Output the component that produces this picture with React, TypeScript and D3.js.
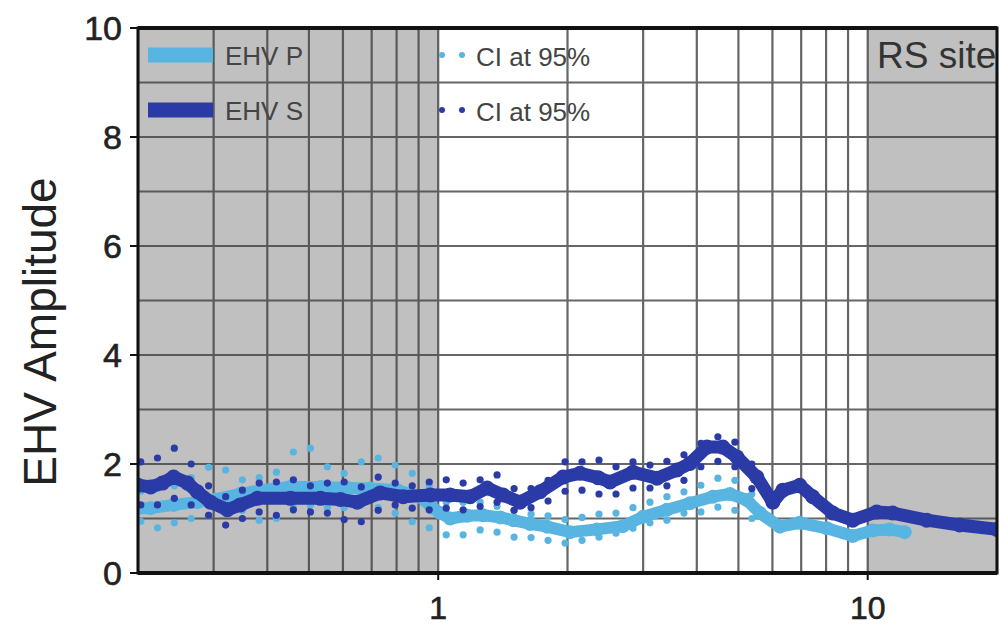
import React, { useEffect, useRef } from "react";
import * as d3 from "d3";

// EHV S (dark blue) mean curve
const sFreq = [0.2, 0.214, 0.228, 0.242, 0.261, 0.275, 0.295, 0.323, 0.346, 0.379, 0.453, 0.532, 0.592, 0.648, 0.733, 0.829, 0.958, 1.066, 1.187, 1.3, 1.416, 1.551, 1.727, 1.953, 2.139, 2.356, 2.512, 2.841, 3.231, 3.596, 3.855, 4.222, 4.6, 4.959, 5.519, 6.013, 6.344, 6.948, 7.449, 8.291, 9.228, 10.49, 11.43, 13.72, 16.37, 20];
const sAmp = [1.61, 1.58, 1.65, 1.76, 1.65, 1.49, 1.3, 1.16, 1.25, 1.37, 1.37, 1.37, 1.35, 1.3, 1.47, 1.4, 1.43, 1.43, 1.4, 1.56, 1.43, 1.3, 1.49, 1.76, 1.83, 1.75, 1.67, 1.85, 1.74, 1.89, 2.01, 2.31, 2.31, 2.13, 1.76, 1.3, 1.52, 1.61, 1.4, 1.1, 0.97, 1.12, 1.1, 0.97, 0.88, 0.8];

// EHV P (light blue) mean curve
const pFreq = [0.2, 0.214, 0.242, 0.275, 0.303, 0.346, 0.386, 0.453, 0.532, 0.614, 0.695, 0.803, 0.908, 0.968, 1.011, 1.066, 1.168, 1.272, 1.394, 1.494, 1.637, 1.792, 2.028, 2.343, 2.693, 2.997, 3.408, 3.855, 4.36, 4.776, 5.231, 5.609, 6.243, 6.948, 8.031, 9.228, 10.27, 11.25, 12.19];
const pAmp = [1.19, 1.19, 1.25, 1.3, 1.35, 1.45, 1.52, 1.58, 1.58, 1.56, 1.55, 1.52, 1.4, 1.2, 1.1, 1.0, 1.05, 1.06, 1.02, 0.97, 0.9, 0.85, 0.75, 0.8, 0.86, 1.03, 1.16, 1.28, 1.4, 1.45, 1.34, 1.1, 0.85, 0.92, 0.82, 0.68, 0.78, 0.8, 0.75];

// 95% confidence interval dots
const ciFreq = [0.203, 0.222, 0.243, 0.266, 0.292, 0.32, 0.35, 0.383, 0.42, 0.46, 0.504, 0.552, 0.604, 0.662, 0.725, 0.794, 0.87, 0.953, 1.044, 1.143, 1.252, 1.371, 1.502, 1.645, 1.802, 1.974, 2.162, 2.368, 2.594, 2.841, 3.112, 3.408, 3.734, 4.089, 4.479, 4.906, 5.373];
const sUpper = [2.04, 2.11, 2.29, 2.0, 1.6, 1.4, 1.52, 1.65, 1.67, 1.71, 1.6, 1.65, 1.67, 1.58, 1.76, 1.65, 1.6, 1.67, 1.71, 1.65, 1.71, 1.8, 1.55, 1.55, 1.7, 2.04, 2.04, 2.07, 1.95, 2.04, 1.98, 2.05, 2.17, 2.38, 2.5, 2.4, 2.0];
const sLower = [1.25, 1.25, 1.37, 1.25, 1.06, 0.88, 1.0, 1.12, 1.06, 1.16, 1.12, 1.1, 0.98, 0.94, 1.15, 1.25, 1.19, 1.16, 1.19, 1.16, 1.22, 1.3, 1.15, 1.2, 1.32, 1.5, 1.52, 1.45, 1.45, 1.56, 1.56, 1.6, 1.7, 1.95, 2.05, 1.95, 1.55];
const pUpper = [1.5, 1.55, 1.6, 1.75, 1.94, 1.89, 1.71, 1.75, 1.85, 2.22, 2.29, 1.95, 1.83, 2.04, 2.11, 1.98, 1.83, 1.6, 1.3, 1.3, 1.3, 1.22, 1.15, 1.08, 1.05, 0.98, 1.02, 1.08, 1.1, 1.2, 1.3, 1.4, 1.49, 1.61, 1.74, 1.7, 1.45];
const pLower = [0.95, 0.83, 0.92, 1.0, 1.06, 1.1, 1.15, 0.97, 1.0, 1.2, 1.25, 1.2, 1.2, 1.25, 1.2, 1.1, 0.94, 0.83, 0.7, 0.7, 0.79, 0.75, 0.66, 0.65, 0.6, 0.55, 0.6, 0.66, 0.73, 0.82, 0.92, 0.97, 1.1, 1.12, 1.21, 1.15, 1.0];

const yTicks = [0, 2, 4, 6, 8, 10];
const xTickLabels = [1, 10];
const shadedBands = [[0.2, 1], [10, 20]];

const LIGHT = "#58b4e1";
const DARK = "#2a3aa6";
const FONT = "'Liberation Sans', Arial, sans-serif";

const EhvChart = ({ width = 1000, height = 625 }) => {
  const ref = useRef<SVGSVGElement>(null);

  useEffect(() => {
    const left = 138, right = 997, top = 28, bottom = 573;
    const svg = d3.select(ref.current);
    svg.selectAll("*").remove();

    const x = d3.scaleLog().domain([0.2, 20]).range([left, right]);
    const y = d3.scaleLinear().domain([0, 10]).range([bottom, top]);

    svg.append("defs").append("clipPath").attr("id", "plot-clip")
      .append("rect").attr("x", left).attr("y", top)
      .attr("width", right - left).attr("height", bottom - top);

    // background + shaded bands
    svg.append("rect").attr("x", left).attr("y", top)
      .attr("width", right - left).attr("height", bottom - top).attr("fill", "#fff");
    svg.selectAll(".band").data(shadedBands).enter().append("rect")
      .attr("x", (d) => x(d[0])).attr("y", top)
      .attr("width", (d) => x(d[1]) - x(d[0])).attr("height", bottom - top)
      .attr("fill", "#c0c0c0");

    // grid
    const grid = svg.append("g").attr("stroke", "#404040").attr("stroke-width", 2.2).attr("opacity", 0.8);
    grid.selectAll(".vg").data(x.ticks()).enter().append("line")
      .attr("x1", (d) => x(d)).attr("x2", (d) => x(d)).attr("y1", top).attr("y2", bottom);
    grid.selectAll(".hg").data(d3.range(1, 10)).enter().append("line")
      .attr("x1", left).attr("x2", right).attr("y1", (d) => y(d)).attr("y2", (d) => y(d));

    const plot = svg.append("g").attr("clip-path", "url(#plot-clip)");

    const drawSeries = (freq: number[], amp: number[], up: number[], lo: number[], color: string, w: number) => {
      const pts = freq.map((f, i) => [x(f), y(amp[i])] as [number, number]);
      plot.append("path").attr("d", d3.line()(pts)).attr("fill", "none")
        .attr("stroke", color).attr("stroke-width", w)
        .attr("stroke-linejoin", "round").attr("stroke-linecap", "round");
      // jagged edge points along the curve
      plot.selectAll(null).data(pts).enter().append("circle")
        .attr("cx", (d) => d[0]).attr("cy", (d) => d[1]).attr("r", w / 2 + 1).attr("fill", color);
      const ci = ciFreq.flatMap((f, i) => [[f, up[i]], [f, lo[i]]]);
      plot.selectAll(null).data(ci).enter().append("circle")
        .attr("cx", (d) => x(d[0])).attr("cy", (d) => y(d[1])).attr("r", 3.6).attr("fill", color);
    };

    drawSeries(pFreq, pAmp, pUpper, pLower, LIGHT, 12);
    drawSeries(sFreq, sAmp, sUpper, sLower, DARK, 13);

    // legend
    const lg = plot.append("g").attr("font-family", FONT);
    [[LIGHT, "EHV P", 55], [DARK, "EHV S", 110]].forEach(([c, label, ly]) => {
      lg.append("rect").attr("x", 148).attr("y", (ly as number) - 7.5).attr("width", 65).attr("height", 15).attr("fill", c as string);
      lg.append("text").attr("x", 225).attr("y", (ly as number) + 10).attr("font-size", 26)
        .attr("fill", "#444").text(label as string);
      [442, 462].forEach((cx) => lg.append("circle").attr("cx", cx).attr("cy", ly as number).attr("r", 3).attr("fill", c as string));
      lg.append("text").attr("x", 476).attr("y", (ly as number) + 11).attr("font-size", 26)
        .attr("fill", "#444").text("CI at 95%");
    });
    lg.append("text").attr("x", 877).attr("y", 68).attr("font-size", 37).attr("fill", "#333").text("RS site");

    // frame
    svg.append("rect").attr("x", left).attr("y", top).attr("width", right - left).attr("height", bottom - top)
      .attr("fill", "none").attr("stroke", "#111").attr("stroke-width", 3);
    svg.append("line").attr("x1", left).attr("x2", right).attr("y1", top).attr("y2", top).attr("stroke", "#111").attr("stroke-width", 4);
    svg.append("line").attr("x1", left).attr("x2", right).attr("y1", bottom).attr("y2", bottom).attr("stroke", "#111").attr("stroke-width", 4);

    // y axis ticks and labels
    const ya = svg.append("g").attr("font-family", FONT);
    ya.selectAll("line").data(yTicks).enter().append("line")
      .attr("x1", left - 8).attr("x2", left).attr("y1", (d) => y(d)).attr("y2", (d) => y(d))
      .attr("stroke", "#111").attr("stroke-width", 2);
    ya.selectAll("text").data(yTicks).enter().append("text")
      .attr("x", 122).attr("y", (d) => y(d) + 12).attr("text-anchor", "end")
      .attr("font-size", 34).attr("fill", "#222").attr("stroke", "#222").attr("stroke-width", 0.6)
      .text((d) => d);

    // x axis labels
    const xa = svg.append("g").attr("font-family", FONT);
    xa.selectAll("line").data(xTickLabels).enter().append("line")
      .attr("x1", (d) => x(d)).attr("x2", (d) => x(d)).attr("y1", bottom).attr("y2", bottom + 7)
      .attr("stroke", "#111").attr("stroke-width", 2);
    xa.selectAll("text").data(xTickLabels).enter().append("text")
      .attr("x", (d) => x(d)).attr("y", 619).attr("text-anchor", "middle")
      .attr("font-size", 32).attr("fill", "#222").attr("stroke", "#222").attr("stroke-width", 0.6)
      .text((d) => d);

    // axis title
    svg.append("text").attr("transform", "translate(56,332) rotate(-90)")
      .attr("text-anchor", "middle").attr("font-family", FONT).attr("font-size", 46)
      .attr("fill", "#222").text("EHV Amplitude");
  }, [width, height]);

  return <svg ref={ref} width={width} height={height} style={{ display: "block" }}></svg>;
};

export default function App() {
  return (
    <div style={{ position: "fixed", left: 0, top: 0, width: 1000, height: 625, background: "#fff" }}>
      <EhvChart />
    </div>
  );
}
